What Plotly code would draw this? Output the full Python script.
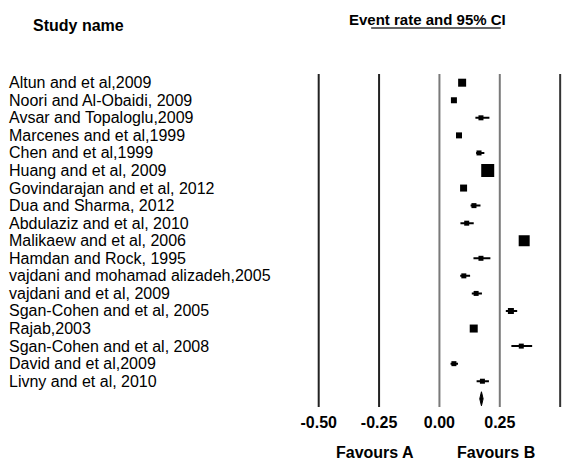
import plotly.graph_objects as go

# ---------------- data ----------------
studies = [
    "Altun and et al,2009",
    "Noori and Al-Obaidi, 2009",
    "Avsar and Topaloglu,2009",
    "Marcenes and et al,1999",
    "Chen and et al,1999",
    "Huang and et al, 2009",
    "Govindarajan and et al, 2012",
    "Dua and Sharma, 2012",
    "Abdulaziz and et al, 2010",
    "Malikaew and et al, 2006",
    "Hamdan and Rock, 1995",
    "vajdani and mohamad alizadeh,2005",
    "vajdani and et al, 2009",
    "Sgan-Cohen and et al, 2005",
    "Rajab,2003",
    "Sgan-Cohen and et al, 2008",
    "David and et al,2009",
    "Livny and et al, 2010",
]
event_rate = [0.094, 0.060, 0.172, 0.081, 0.164, 0.200, 0.100, 0.143, 0.113,
              0.351, 0.172, 0.101, 0.152, 0.296, 0.142, 0.339, 0.060, 0.178]
lower_ci = [0.086, 0.054, 0.149, 0.075, 0.152, 0.188, 0.092, 0.129, 0.087,
            0.340, 0.141, 0.086, 0.134, 0.275, 0.134, 0.298, 0.046, 0.154]
upper_ci = [0.102, 0.066, 0.207, 0.087, 0.186, 0.212, 0.108, 0.170, 0.142,
            0.362, 0.211, 0.127, 0.176, 0.322, 0.150, 0.384, 0.077, 0.205]
rel_weight = [8, 6, 5, 6, 5, 13, 7, 5, 5, 11, 5, 5, 5, 6, 8, 5, 5, 5]

summary_rate = 0.174
summary_lower = 0.167
summary_upper = 0.181

tick_values = [-0.50, -0.25, 0.00, 0.25, 0.50]
tick_labels = ["-0.50", "-0.25", "0.00", "0.25", "0.50"]

# ---------------- styles ----------------
W, H = 575, 460
FONT = "Liberation Sans, Arial, sans-serif"
line_colors = {-0.50: "#222222", -0.25: "#222222", 0.00: "#7a7a7a",
               0.25: "#7a7a7a", 0.50: "#333333"}

n = len(studies)
rows = [-i for i in range(n)]
summary_row = -n

fig = go.Figure()

# study estimates with CIs
fig.add_trace(go.Scatter(
    x=event_rate, y=rows, mode="markers",
    marker=dict(symbol="square", size=[w * 1.0 for w in rel_weight], color="black",
                opacity=1, line=dict(width=0)),
    error_x=dict(type="data", symmetric=False,
                 array=[u - e for u, e in zip(upper_ci, event_rate)],
                 arrayminus=[e - l for e, l in zip(event_rate, lower_ci)],
                 color="black", thickness=2, width=0),
    cliponaxis=False, showlegend=False, hoverinfo="skip",
))

# summary diamond
dh = 0.4
fig.add_trace(go.Scatter(
    x=[summary_lower, summary_rate, summary_upper, summary_rate, summary_lower],
    y=[summary_row, summary_row + dh, summary_row, summary_row - dh, summary_row],
    mode="lines", fill="toself", fillcolor="black",
    line=dict(color="black", width=1),
    showlegend=False, hoverinfo="skip",
))

# vertical lines at ticks
for v in tick_values:
    fig.add_shape(type="line", xref="x", yref="y domain", x0=v, x1=v, y0=0, y1=1,
                  line=dict(color=line_colors[v], width=2), layer="below")

# study labels
for name, r in zip(studies, rows):
    fig.add_annotation(text=name, xref="paper", yref="y", x=1 / W, y=r,
                       xanchor="left", yanchor="middle", showarrow=False,
                       font=dict(family=FONT, size=16, color="black"))

# headers
fig.add_annotation(text="<b>Study name</b>", xref="paper", yref="paper",
                   x=25 / W, y=(H - 25) / H, xanchor="left", yanchor="middle",
                   showarrow=False, font=dict(family=FONT, size=16, color="black"))
fig.add_annotation(text="<b>Event rate and 95% CI</b>", xref="paper", yref="paper",
                   x=345 / W, y=(H - 20) / H, xanchor="left", yanchor="middle",
                   showarrow=False, font=dict(family=FONT, size=15, color="black"))
fig.add_shape(type="line", xref="paper", yref="paper",
              x0=369 / W, x1=500 / W, y0=(H - 28) / H, y1=(H - 28) / H,
              line=dict(color="#333333", width=1.5))

# favours labels
fig.add_annotation(text="<b>Favours A</b>", xref="paper", yref="paper",
                   x=373 / W, y=(H - 452) / H, xanchor="center", yanchor="middle",
                   showarrow=False, font=dict(family=FONT, size=16, color="black"))
fig.add_annotation(text="<b>Favours B</b>", xref="paper", yref="paper",
                   x=495 / W, y=(H - 452) / H, xanchor="center", yanchor="middle",
                   showarrow=False, font=dict(family=FONT, size=16, color="black"))

# axis geometry: x pixel = 438 + 244 * value ; rows spaced 17.56 px starting at 82.7
x_lo, x_hi = -0.55, 0.55
px_lo, px_hi = 438 + 244 * x_lo, 438 + 244 * x_hi
top_px, bot_px = 74, 407
row_top = (top_px - 82.7) / 17.56
row_bot = (bot_px - 82.7) / 17.56

fig.update_layout(
    width=W, height=H,
    margin=dict(l=0, r=0, t=0, b=0),
    paper_bgcolor="white", plot_bgcolor="white",
    xaxis=dict(domain=[px_lo / W, px_hi / W], range=[x_lo, x_hi],
               tickvals=tick_values, ticktext=tick_labels,
               showgrid=False, zeroline=False, showline=False, ticks="",
               ticklabelstandoff=4,
               tickfont=dict(family=FONT, size=16, color="black", weight="bold")),
    yaxis=dict(domain=[(H - bot_px) / H, (H - top_px) / H],
               range=[-row_bot, -row_top],
               showgrid=False, zeroline=False, showline=False,
               showticklabels=False, ticks=""),
)

fig.write_html("out.html")
